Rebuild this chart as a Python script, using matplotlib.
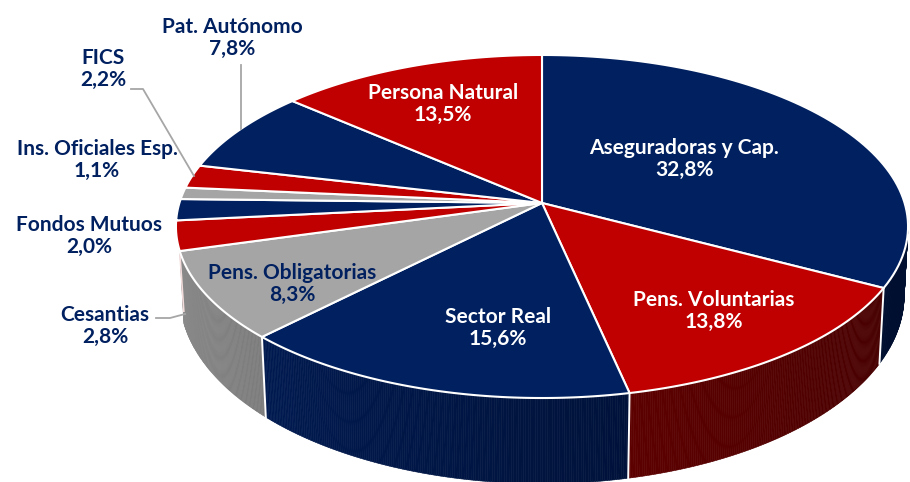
#
# 3D look pie of portfolio holders, drawn by hand because matplotlib has no perspective pie
#
import numpy as np
from matplotlib import colors as mcolors
from matplotlib import pyplot as plt

plt.rcParams['font.family'] = ['Lato', 'DejaVu Sans']

labels = ['Aseguradoras y Cap.', 'Pens. Voluntarias', 'Sector Real', 'Pens. Obligatorias',
          'Cesantias', 'Fondos Mutuos', 'Ins. Oficiales Esp.', 'FICS', 'Pat. Autónomo', 'Persona Natural']
values = [32.8, 13.8, 15.6, 8.3, 2.8, 2.0, 1.1, 2.2, 7.8, 13.5]

NAVY, RED, GRAY = '#002060', '#C00000', '#A5A5A5'
top_cols = [NAVY, RED, NAVY, GRAY, RED, NAVY, GRAY, RED, NAVY, RED]
# wall gradient, left end of the slice first (only the four front slices show a wall)
wall_cols = [('#000f30', '#001030'), ('#5c0000', '#470000'), ('#001a50', '#00123a'), ('#8a8a8a', '#7c7c7c')]
txt_cols = ['white', 'white', 'white', NAVY, NAVY, NAVY, NAVY, NAVY, NAVY, 'white']
txt_pos = [(684, 159), (714, 311), (498, 328), (292, 284), (105, 326),
           (89, 236), (97, 160), (103, 69), (232, 38), (443, 104)]


def top_rim(a):
    # a = degrees clockwise from 12 o'clock, gives pixel coords on the top face
    u, v = np.sin(np.radians(a)), np.cos(np.radians(a))
    w = 1 + 0.137 * v
    return 542 + 362.6 * u / w, 203 - 168.3 * v / w


def low_rim(a):
    u, v = np.sin(np.radians(a)), np.cos(np.radians(a))
    w = 1 + 0.132 * v
    return 542 + 359 * u / w, 270.5 - 185 * v / w


edges = np.concatenate([[0], np.cumsum(values)]) / np.sum(values) * 360

fig = plt.figure(figsize=(9.1, 4.82), dpi=100)
ax = fig.add_axes([0, 0, 1, 1])
ax.set_xlim(0, 910)
ax.set_ylim(482, 0)
ax.axis('off')

# walls, in thin strips so the shading runs along the rim
for i, (c_left, c_right) in enumerate(wall_cols):
    a0 = max(edges[i], 95)
    a1 = edges[i + 1]
    grid = np.linspace(a0, a1, int((a1 - a0) * 3) + 2)
    left, right = np.array(mcolors.to_rgb(c_left)), np.array(mcolors.to_rgb(c_right))
    for j in range(len(grid) - 1):
        sub = grid[j:j + 2]
        xt, yt = top_rim(sub)
        xb, yb = low_rim(sub[::-1])
        t = (j + 0.5) / (len(grid) - 1)
        col = tuple(left * t + right * (1 - t))
        ax.fill(np.r_[xt, xb], np.r_[yt, yb], color=col, lw=0.4, zorder=1)
    # white divider at the end of the slice
    xt, yt = top_rim(a1)
    xb, yb = low_rim(a1)
    if i < 3:
        ax.plot([xt, xb], [yt, yb], color='white', lw=1.4, zorder=2)
    else:
        ax.plot([xt, xb], [yt, yb - 12], color='#f3dcdc', lw=1.2, zorder=2)

# top face
for i in range(len(values)):
    grid = np.linspace(edges[i], edges[i + 1], 80)
    x, y = top_rim(grid)
    ax.fill(np.r_[542, x], np.r_[203, y], facecolor=top_cols[i], edgecolor='white', lw=1.5,
            joinstyle='round', zorder=3)

# leader lines
ax.plot([241, 241], [65, 129], color='#A6A6A6', lw=1.3, zorder=4)
ax.plot([131, 143, 194], [89, 89, 176], color='#A6A6A6', lw=1.3, zorder=4)
ax.plot([156, 170, 185], [318, 318, 314], color='#A6A6A6', lw=1.3, zorder=4)

for name, val, col, (tx, ty) in zip(labels, values, txt_cols, txt_pos):
    ax.text(tx, ty, name + '\n' + f'{val:.1f}'.replace('.', ',') + '%', color=col, fontsize=15,
            fontweight='bold', ha='center', va='center', linespacing=1.18, zorder=5)

fig.savefig('out.png', dpi=100)
